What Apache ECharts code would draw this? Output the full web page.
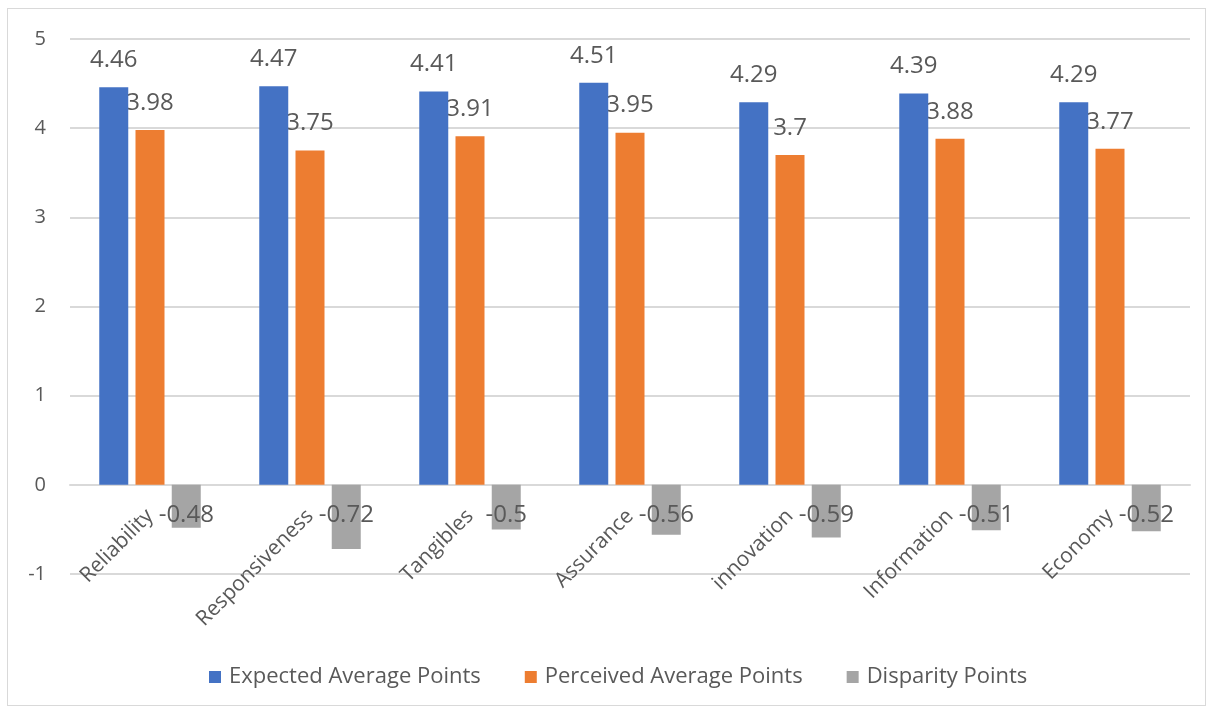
<!DOCTYPE html>
<html>
<head>
<meta charset="utf-8">
<script src="https://cdn.jsdelivr.net/npm/echarts@6/dist/echarts.min.js"></script>
<style>
    html, body { margin: 0; padding: 0; background: #fff; }
    #frame {
        position: absolute; left: 7px; top: 8px;
        width: 1197px; height: 696px;
        border: 1px solid #d9d9d9;
    }
    #chart { position: absolute; left: 0; top: 0; width: 1213px; height: 711px; }
</style>
</head>
<body>
<div id="frame"></div>
<div id="chart"></div>
<script>
    // categories and values
    var categories = ['Reliability', 'Responsiveness', 'Tangibles', 'Assurance', 'innovation', 'Information', 'Economy'];
    var expected = [4.46, 4.47, 4.41, 4.51, 4.29, 4.39, 4.29];
    var perceived = [3.98, 3.75, 3.91, 3.95, 3.7, 3.88, 3.77];
    var disparity = [-0.48, -0.72, -0.5, -0.56, -0.59, -0.51, -0.52];
    var yTicks = [-1, 0, 1, 2, 3, 4, 5];

    var font = '"Open Sans", "Noto Sans", sans-serif';
    var textColor = '#595959';

    var gridTop = 39, gridBottom = 137, chartHeight = 711;
    var yMin = yTicks[0], yMax = yTicks[yTicks.length - 1];
    // lift the category axis from the bottom of the grid up to the zero line
    var plotHeight = chartHeight - gridTop - gridBottom;
    var zeroLift = plotHeight * (0 - yMin) / (yMax - yMin);

    var chart = echarts.init(document.getElementById('chart'));
    chart.setOption({
        animation: false,
        textStyle: { fontFamily: font },
        grid: { left: 70, right: 23, top: gridTop, bottom: gridBottom },
        legend: {
            bottom: 18,
            left: 204,
            itemWidth: 12,
            itemHeight: 12,
            itemGap: 44,
            icon: 'rect',
            textStyle: { fontSize: 22, color: textColor, fontFamily: font, padding: [0, 0, 0, 3] },
            data: ['Expected Average Points', 'Perceived Average Points', 'Disparity Points']
        },
        xAxis: {
            type: 'category',
            data: categories,
            offset: -zeroLift,
            axisLine: { onZero: false, lineStyle: { color: '#d9d9d9', width: 2 } },
            axisTick: { show: false },
            axisLabel: {
                rotate: 45,
                margin: 28,
                interval: 0,
                fontSize: 21,
                color: textColor,
                fontFamily: font
            }
        },
        yAxis: {
            type: 'value',
            min: yMin,
            max: yMax,
            interval: 1,
            axisLine: { show: false },
            axisTick: { show: false },
            splitLine: { lineStyle: { color: '#d9d9d9', width: 2 } },
            axisLabel: { fontSize: 20, color: textColor, margin: 24, fontFamily: font }
        },
        series: [
            {
                name: 'Expected Average Points',
                type: 'bar',
                z: 3,
                data: expected,
                barWidth: 29,
                barGap: '25%',
                itemStyle: { color: '#4472C4' },
                label: { show: true, position: 'top', distance: 15, fontSize: 24, color: textColor, fontFamily: font }
            },
            {
                name: 'Perceived Average Points',
                type: 'bar',
                z: 2,
                data: perceived,
                barWidth: 29,
                barGap: '25%',
                itemStyle: { color: '#ED7D31' },
                label: { show: true, position: 'top', distance: 15, fontSize: 24, color: textColor, fontFamily: font }
            },
            {
                name: 'Disparity Points',
                type: 'bar',
                z: 2,
                data: disparity,
                barWidth: 29,
                barGap: '25%',
                itemStyle: { color: '#A5A5A5' },
                label: { show: true, position: 'insideTop', distance: 18, fontSize: 24, color: textColor, fontFamily: font }
            }
        ]
    });
</script>
</body>
</html>
